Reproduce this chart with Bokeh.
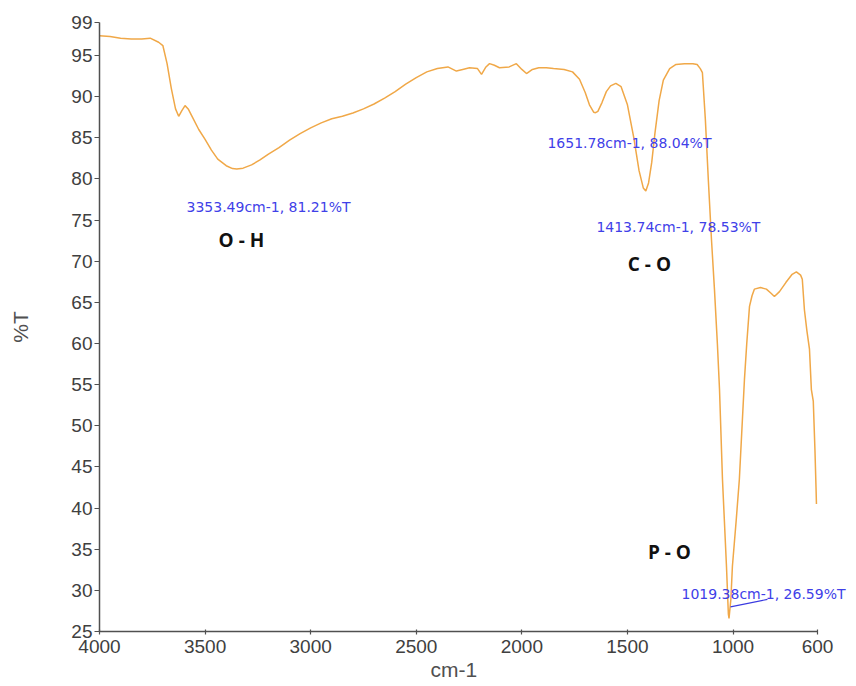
from bokeh.plotting import figure
from bokeh.models import Range1d, FixedTicker, Label, Title
from bokeh.embed import file_html
from bokeh.resources import INLINE

# FTIR spectrum values
wavenumber = [4000, 3950, 3900, 3850, 3800, 3760, 3720, 3700, 3680, 3660, 3640, 3625,
              3610, 3595, 3580, 3560, 3530, 3500, 3470, 3440, 3400, 3370, 3350, 3320,
              3280, 3240, 3200, 3150, 3100, 3050, 3000, 2950, 2900, 2850, 2800, 2750,
              2700, 2650, 2600, 2550, 2500, 2450, 2400, 2350, 2310, 2280, 2248, 2210,
              2191, 2170, 2153, 2130, 2106, 2060, 2026, 2000, 1978, 1950, 1920, 1884,
              1850, 1800, 1760, 1727, 1700, 1680, 1660, 1651, 1640, 1620, 1600, 1580,
              1555, 1530, 1500, 1470, 1445, 1425, 1413, 1400, 1385, 1370, 1350, 1330,
              1300, 1270, 1230, 1190, 1170, 1155, 1145, 1131, 1117, 1102, 1088, 1074,
              1064, 1050, 1031, 1022, 1019, 1010, 1003, 985, 970, 946, 935, 922, 910,
              899, 870, 842, 820, 804, 780, 750, 720, 700, 680, 672, 662, 650, 638,
              629, 620, 612, 607, 605]
transmittance = [97.4, 97.3, 97.1, 97.0, 97.0, 97.1, 96.6, 96.2, 94.0, 91.0, 88.5, 87.6,
                 88.3, 88.9, 88.5, 87.5, 86.0, 84.8, 83.5, 82.4, 81.6, 81.25, 81.21, 81.3,
                 81.7, 82.3, 83.0, 83.8, 84.7, 85.5, 86.2, 86.8, 87.3, 87.6, 88.0, 88.5,
                 89.1, 89.8, 90.6, 91.5, 92.3, 93.0, 93.4, 93.6, 93.1, 93.3, 93.5, 93.4,
                 92.7, 93.6, 94.0, 93.8, 93.5, 93.6, 94.0, 93.3, 92.8, 93.3, 93.5, 93.5,
                 93.4, 93.3, 93.0, 92.1, 90.5, 89.0, 88.1, 88.04, 88.2, 89.3, 90.6, 91.3,
                 91.6, 91.2, 89.0, 85.0, 81.0, 78.9, 78.53, 79.5, 82.0, 85.5, 89.5, 92.0,
                 93.4, 93.9, 94.0, 94.0, 93.9, 93.4, 92.9, 87.2, 79.9, 72.6, 66.6, 59.9,
                 54.4, 43.5, 32.9, 27.1, 26.59, 29.0, 32.9, 38.5, 43.5, 55.6, 60.0, 64.5, 65.8,
                 66.6, 66.8, 66.6, 66.1, 65.7, 66.3, 67.4, 68.4, 68.7, 68.3, 67.8, 64.1, 61.5, 59.3,
                 54.4, 53.0, 47.0, 42.5, 40.5]

x_ticks = [4000, 3500, 3000, 2500, 2000, 1500, 1000, 600]
y_ticks = [25, 30, 35, 40, 45, 50, 55, 60, 65, 70, 75, 80, 85, 90, 95, 99]

peak_texts = ["3353.49cm-1, 81.21%T", "1651.78cm-1, 88.04%T",
              "1413.74cm-1, 78.53%T", "1019.38cm-1, 26.59%T"]
peak_text_x = [3588, 1879, 1647, 1244]
peak_text_y = [76.6, 84.4, 74.2, 29.5]

group_texts = ["O - H", "C - O", "P - O"]
group_x = [3328, 1396, 1301]
group_y = [72.6, 69.6, 34.6]

leader_x = [1012, 837]
leader_y = [28.0, 28.9]

X0, X1, Y0, Y1 = 4000, 600, 25, 99
AXIS_W, FRAME_H = 718, 609          # pixel length of the 4000..600 axis and 25..99 axis
WIDTH, HEIGHT = 852, 685
BORDER_L, BORDER_T = 99, 22
BORDER_B = HEIGHT - BORDER_T - FRAME_H
frame_w = WIDTH - BORDER_L
x_end = X0 - (X0 - X1) * frame_w / AXIS_W   # frame runs a little past 600 so text is not cut

p = figure(width=WIDTH, height=HEIGHT, output_backend="svg", toolbar_location=None,
           x_range=Range1d(X0, x_end), y_range=Range1d(Y0, Y1),
           min_border_left=BORDER_L, min_border_right=0,
           min_border_top=BORDER_T, min_border_bottom=BORDER_B)
p.outline_line_color = None
p.grid.visible = False
p.background_fill_color = "white"

p.line(wavenumber, transmittance, line_color="#f0a848", line_width=1.5)
p.line(leader_x, leader_y, line_color="#3a3ae0", line_width=1.2)

for t, x, y in zip(peak_texts, peak_text_x, peak_text_y):
    p.add_layout(Label(x=x, y=y, text=t, text_color="#4040e8", text_font="DejaVu Sans",
                       text_font_size="14px", text_align="left", text_baseline="middle"))
for t, x, y in zip(group_texts, group_x, group_y):
    p.add_layout(Label(x=x, y=y, text=t, text_color="#111111", text_font="Open Sans",
                       text_font_size="19px", text_font_style="bold",
                       text_align="center", text_baseline="middle"))

ax_col = "#505050"
p.xaxis.ticker = FixedTicker(ticks=x_ticks)
p.yaxis.ticker = FixedTicker(ticks=y_ticks)
p.xaxis.bounds = (X1, X0)
for ax in (p.xaxis[0], p.yaxis[0]):
    ax.axis_line_color = ax_col
    ax.axis_line_width = 1.5
    ax.major_tick_line_color = ax_col
    ax.major_tick_line_width = 1.2
    ax.minor_tick_line_color = None
    ax.major_label_text_color = "#404040"
    ax.major_label_text_font = "Liberation Sans"
    ax.major_label_text_font_size = "19px"
    ax.axis_label_text_color = "#505050"
    ax.axis_label_text_font = "Liberation Sans"
    ax.axis_label_text_font_style = "normal"
    ax.axis_label_text_font_size = "21px"

p.xaxis.major_tick_in = 2
p.xaxis.major_tick_out = 3
p.xaxis.major_label_standoff = 5

# x-axis title, centred under the 4000..600 axis
p.add_layout(Title(text="cm-1", align="left", offset=AXIS_W / 2 - 28, standoff=0,
                   text_color="#505050", text_font="Liberation Sans",
                   text_font_style="normal", text_font_size="21px"), "below")

p.yaxis.axis_label = "%T"
p.yaxis.major_tick_in = 0
p.yaxis.major_tick_out = 5
p.yaxis.major_label_standoff = 2
p.yaxis.axis_label_standoff = 36

open("out.html", "w").write(file_html(p, INLINE))
